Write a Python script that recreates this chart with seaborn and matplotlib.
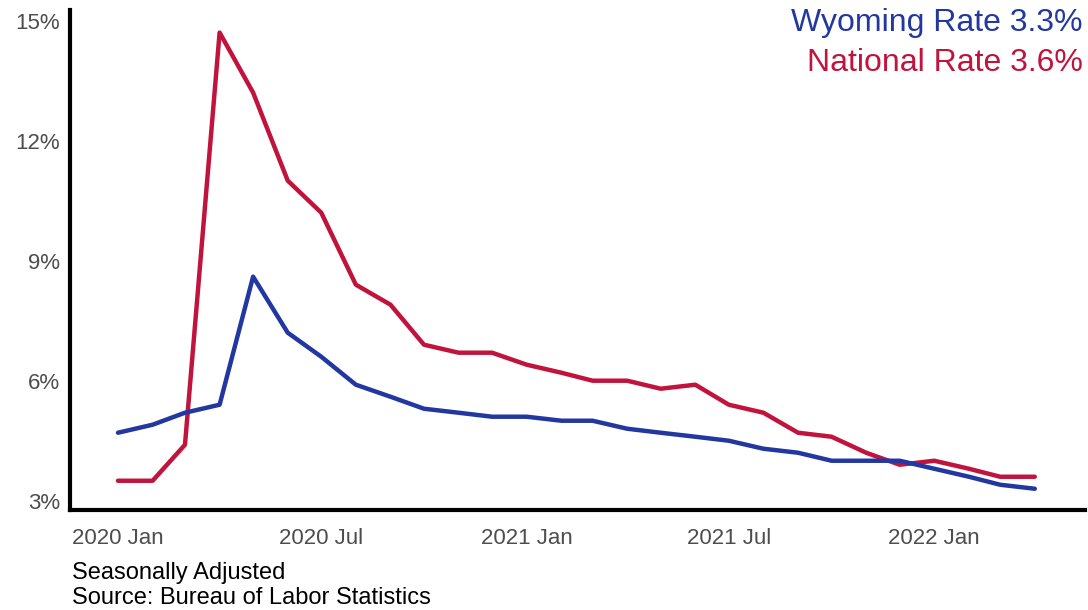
import pandas as pd
import seaborn as sns
import matplotlib.pyplot as plt
from matplotlib.ticker import FuncFormatter

# Monthly unemployment rates, seasonally adjusted
months = pd.date_range('2020-01-01', '2022-04-01', freq='MS')
wyoming = [4.7, 4.9, 5.2, 5.4, 8.6, 7.2, 6.6, 5.9, 5.6, 5.3, 5.2, 5.1,
           5.1, 5.0, 5.0, 4.8, 4.7, 4.6, 4.5, 4.3, 4.2, 4.0, 4.0, 4.0,
           3.8, 3.6, 3.4, 3.3]
national = [3.5, 3.5, 4.4, 14.7, 13.2, 11.0, 10.2, 8.4, 7.9, 6.9, 6.7, 6.7,
            6.4, 6.2, 6.0, 6.0, 5.8, 5.9, 5.4, 5.2, 4.7, 4.6, 4.2, 3.9,
            4.0, 3.8, 3.6, 3.6]
tick_dates = pd.to_datetime(['2020-01-01', '2020-07-01', '2021-01-01', '2021-07-01', '2022-01-01'])
tick_labels = ['2020 Jan', '2020 Jul', '2021 Jan', '2021 Jul', '2022 Jan']

blue = '#2337a0'
red = '#c1143d'

df = pd.DataFrame({'date': months, 'Wyoming': wyoming, 'National': national})
long = df.melt(id_vars='date', var_name='area', value_name='rate')

sns.set_style('white')
plt.rcParams['font.family'] = ['Liberation Sans', 'DejaVu Sans']

fig = plt.figure(figsize=(10.88, 6.10), dpi=100)
ax = fig.add_axes([0.0643, 0.164, 0.933, 0.820])

sns.lineplot(data=long, x='date', y='rate', hue='area',
             palette={'Wyoming': blue, 'National': red},
             hue_order=['National', 'Wyoming'],
             linewidth=3.2, legend=False, ax=ax)

ax.set_ylim(2.77, 15.27)
ax.set_xlim(pd.Timestamp('2019-11-19'), pd.Timestamp('2022-05-16'))
ax.set_yticks([3, 6, 9, 12, 15])
ax.yaxis.set_major_formatter(FuncFormatter(lambda v, p: f'{v:.0f}%'))
ax.set_xticks(tick_dates)
ax.set_xticklabels(tick_labels)
ax.set_xlabel('')
ax.set_ylabel('')

for s in ['top', 'right']:
    ax.spines[s].set_visible(False)
for s in ['left', 'bottom']:
    ax.spines[s].set_linewidth(3)
    ax.spines[s].set_color('black')

ax.tick_params(axis='both', labelsize=16, labelcolor='#4d4d4d', color='#333333',
               length=4, width=1.2, direction='out')
ax.tick_params(axis='x', pad=9)
ax.tick_params(axis='y', pad=3)

fig.text(0.995, 0.963, 'Wyoming Rate 3.3%', color=blue, fontsize=23,
         ha='right', va='center')
fig.text(0.995, 0.897, 'National Rate 3.6%', color=red, fontsize=23,
         ha='right', va='center')

fig.text(0.066, 0.061, 'Seasonally Adjusted', color='black', fontsize=17,
         ha='left', va='center')
fig.text(0.066, 0.019, 'Source: Bureau of Labor Statistics', color='black',
         fontsize=17, ha='left', va='center')

fig.savefig('out.png', dpi=100)
